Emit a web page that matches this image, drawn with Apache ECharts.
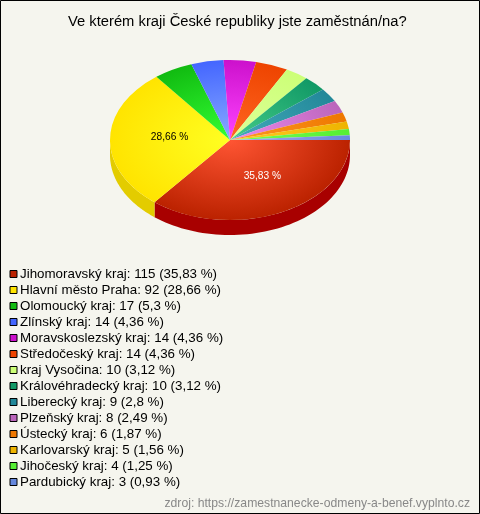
<!DOCTYPE html>
<html><head><meta charset="utf-8">
<style>html,body{margin:0;padding:0;background:#f5f5ee}#c{width:480px;height:514px}</style>
<script src="https://cdn.jsdelivr.net/npm/echarts@6/dist/echarts.min.js"></script>
</head><body><div id="c"></div>
<script>
const titleText = 'Ve kterém kraji České republiky jste zaměstnán/na?';
const sourceText = 'zdroj: https://zamestnanecke-odmeny-a-benef.vyplnto.cz';
const categories = ['Jihomoravský kraj','Hlavní město Praha','Olomoucký kraj','Zlínský kraj','Moravskoslezský kraj','Středočeský kraj','kraj Vysočina','Královéhradecký kraj','Liberecký kraj','Plzeňský kraj','Ústecký kraj','Karlovarský kraj','Jihočeský kraj','Pardubický kraj'];
const values = [115,92,17,14,14,14,10,10,9,8,6,5,4,3];
const percents = ['35,83','28,66','5,3','4,36','4,36','4,36','3,12','3,12','2,8','2,49','1,87','1,56','1,25','0,93'];
const edgeColors = ['#bb2200','#ffe400','#11bb11','#4466ff','#cc11cc','#ee4400','#ccff77','#119966','#228899','#bb66bb','#ee7700','#eeb400','#55ee33','#6688dd'];
const centerColors = ['#ff5533','#ffff22','#33ff33','#88aaff','#ff44ff','#ff6622','#ddff99','#44cc88','#44aabb','#ee88ee','#ff9922','#ffcc22','#77ff55','#aaaaee'];
const sideColors = ['#a80000','#e3cc00'];

const CX = 230, CY = 140, RX = 120, RY = 80, DEPTH = 15;
const total = values.reduce((a, b) => a + b, 0);
const starts = [];
values.reduce((acc, v, i) => { starts[i] = acc; return acc + v; }, 0);

function renderSlice(i) {
  return function (params, api) {
    const a0 = starts[i] / total * Math.PI * 2;
    const a1 = a0 + api.value(0) / total * Math.PI * 2;
    const children = [];
    const w0 = a0, w1 = Math.min(a1, Math.PI);
    if (w1 > w0 && sideColors[i]) {
      const pts = [];
      const n = 60;
      for (let k = 0; k <= n; k++) {
        const t = w0 + (w1 - w0) * k / n;
        pts.push([CX + RX * Math.cos(t), CY + RY * Math.sin(t)]);
      }
      for (let k = n; k >= 0; k--) {
        const t = w0 + (w1 - w0) * k / n;
        pts.push([CX + RX * Math.cos(t), CY + DEPTH + RY * Math.sin(t)]);
      }
      children.push({ type: 'polygon', shape: { points: pts }, style: { fill: sideColors[i] } });
    }
    children.push({
      type: 'sector', x: CX, y: CY, scaleY: RY / RX,
      shape: { cx: 0, cy: 0, r0: 0, r: RX, startAngle: a0, endAngle: a1, clockwise: true },
      style: {
        fill: { type: 'radial', x: 0, y: 0, r: RX, global: true,
          colorStops: [{ offset: 0, color: centerColors[i] }, { offset: 1, color: edgeColors[i] }] }
      }
    });
    if (api.value(0) / total > 0.1) {
      const m = (a0 + a1) / 2;
      const dx = i === 0 ? 6.5 : -0.5, dy = i === 0 ? 0 : -2;
      children.push({
        type: 'text', z2: 10,
        x: CX + RX * 0.5 * Math.cos(m) + dx, y: CY + RY * 0.5 * Math.sin(m) + dy,
        style: { text: percents[i] + ' %', fill: i === 0 ? '#ffffff' : '#000000',
          font: '10.2px "Liberation Sans"', align: 'center', verticalAlign: 'middle' }
      });
    }
    return { type: 'group', children };
  };
}

const chart = echarts.init(document.getElementById('c'), null, { renderer: 'canvas' });
chart.setOption({
  animation: false,
  backgroundColor: '#f5f5ee',
  color: edgeColors,
  title: [
    { text: titleText, left: 63, top: 9, textStyle: { fontFamily: 'Liberation Sans', fontSize: 14.75, fontWeight: 'normal', color: '#000' } },
    { text: sourceText, right: 5, top: 493, textStyle: { fontFamily: 'Liberation Sans', fontSize: 12.2, fontWeight: 'normal', color: '#888' } }
  ],
  legend: {
    orient: 'vertical', left: 9.5, top: 266, padding: 0, itemGap: 0, itemWidth: 7, itemHeight: 7, icon: 'rect', selectedMode: false,
    itemStyle: { borderColor: '#000', borderWidth: 1, borderJoin: 'miter' },
    textStyle: { fontFamily: 'Liberation Sans', fontSize: 13.35, color: '#000', height: 16, lineHeight: 16, padding: [0, 0, 0, -2] },
    formatter: name => { const i = categories.indexOf(name); return name + ': ' + values[i] + ' (' + percents[i] + ' %)'; },
    data: categories
  },
  graphic: [{ type: 'rect', z: 100, shape: { x: 0.5, y: 0.5, width: 479, height: 513 }, style: { fill: 'none', stroke: '#000', lineWidth: 1 } }],
  series: categories.map((name, i) => ({
    type: 'custom', name, coordinateSystem: 'none', silent: true,
    itemStyle: { color: edgeColors[i] },
    data: [[values[i]]],
    renderItem: renderSlice(i)
  }))
});
</script></body></html>
